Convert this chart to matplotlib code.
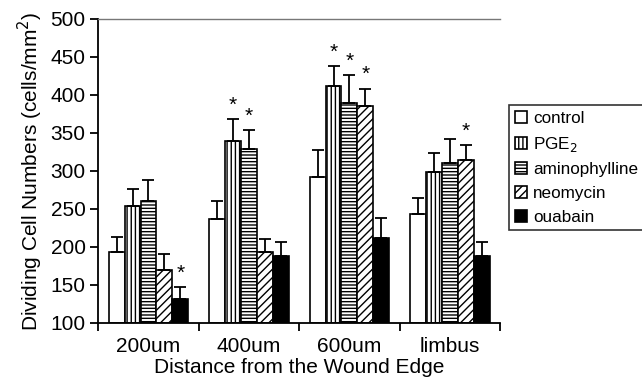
import numpy as np
import matplotlib
matplotlib.use("Agg")
import matplotlib.pyplot as plt

plt.rcParams['font.family'] = ['Liberation Sans', 'DejaVu Sans']
plt.rcParams['hatch.linewidth'] = 1.0

# data
categories = ['200um', '400um', '600um', 'limbus']
series = ['control', 'PGE$_2$', 'aminophylline', 'neomycin', 'ouabain']
control = [193, 237, 292, 243]
pge2 = [254, 339, 412, 299]
aminophylline = [260, 329, 390, 310]
neomycin = [169, 193, 385, 314]
ouabain = [131, 188, 212, 188]
control_err = [20, 23, 35, 22]
pge2_err = [22, 29, 26, 25]
aminophylline_err = [28, 25, 36, 32]
neomycin_err = [22, 17, 23, 20]
ouabain_err = [16, 19, 26, 18]
# (series index, category index) of significance stars
stars = [(4, 0), (1, 1), (2, 1), (1, 2), (2, 2), (3, 2), (3, 3)]

values = [control, pge2, aminophylline, neomycin, ouabain]
errors = [control_err, pge2_err, aminophylline_err, neomycin_err, ouabain_err]
faces = ['white', 'white', 'white', 'white', 'black']
hatches = ['', '||||', '-----', '////', '']

fig = plt.figure(figsize=(6.42, 3.79), dpi=100)
ax = fig.add_axes([0.153, 0.148, 0.626, 0.802])

x = np.arange(len(categories))
width = 0.158
for i, (vals, errs) in enumerate(zip(values, errors)):
    pos = x + (i - 2) * width
    ax.bar(pos, np.array(vals) - 100, width, bottom=100, color=faces[i],
           edgecolor='black', hatch=hatches[i], linewidth=1.2, label=series[i],
           zorder=2)
    ax.errorbar(pos, vals, yerr=[[0] * len(vals), errs], fmt='none',
                ecolor='black', elinewidth=1.3, capsize=4, capthick=1.3,
                zorder=3)

for si, ci in stars:
    top = values[si][ci] + errors[si][ci]
    ax.text(ci + (si - 2) * width, top + 6, '*', ha='center', va='bottom',
            fontsize=15)

ax.set_xlim(-0.5, 3.5)
ax.set_ylim(100, 500)
ax.set_yticks(range(100, 501, 50))
ax.set_xticks(np.arange(-0.5, 4.0, 1.0))
ax.set_xticklabels([])
ax.set_xticks(x, minor=True)
ax.set_xticklabels(categories, minor=True)
ax.tick_params(axis='x', which='minor', length=0, labelsize=15, pad=10)
ax.tick_params(axis='x', which='major', length=6, width=1.3)
ax.tick_params(axis='y', length=6, width=1.3, labelsize=15, pad=3)

ax.spines['right'].set_visible(False)
ax.spines['top'].set_color('#777777')
ax.spines['top'].set_linewidth(1.0)
ax.spines['left'].set_linewidth(1.3)
ax.spines['bottom'].set_linewidth(1.3)

ax.set_xlabel('Distance from the Wound Edge', fontsize=15, labelpad=1.5)
ax.set_ylabel('Dividing Cell Numbers (cells/mm$^2$)', fontsize=15, labelpad=4)

leg = fig.legend(loc='upper left', bbox_to_anchor=(0.793, 0.722),
                 fontsize=12.3, handlelength=0.7, handleheight=0.7,
                 handletextpad=0.35, labelspacing=0.5, borderpad=0.35,
                 borderaxespad=0, frameon=True, fancybox=False,
                 edgecolor='black')
leg.get_frame().set_linewidth(1.2)

fig.savefig('out.png', dpi=100)
